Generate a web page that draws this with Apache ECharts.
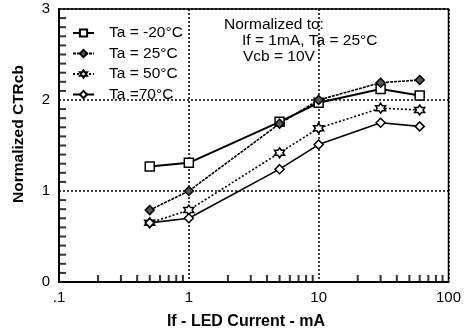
<!DOCTYPE html>
<html><head><meta charset="utf-8">
<script src="https://cdn.jsdelivr.net/npm/echarts@6/dist/echarts.min.js"></script>
<style>html,body{margin:0;padding:0;background:#fff}#c{width:464px;height:334px}</style>
</head><body><div id="c"></div>
<script>
const currents = [0.5, 1, 5, 10, 30, 60];
const seriesNames = ['Ta = -20\u00B0C', 'Ta = 25\u00B0C', 'Ta = 50\u00B0C', 'Ta =70\u00B0C'];
const ctrM20 = [1.27, 1.31, 1.76, 1.97, 2.12, 2.05];
const ctr25 = [0.79, 1.00, 1.74, 2.00, 2.19, 2.22];
const ctr50 = [0.65, 0.79, 1.42, 1.69, 1.91, 1.89];
const ctr70 = [0.65, 0.70, 1.24, 1.51, 1.75, 1.71];
const xMinorTicks = [0.2,0.3,0.4,0.5,0.6,0.7,0.8,0.9,2,3,4,5,6,7,8,9,20,30,40,50,60,70,80,90];
const yMinorTicks = [0.1,0.2,0.3,0.4,0.5,0.6,0.7,0.8,0.9,1.1,1.2,1.3,1.4,1.5,1.6,1.7,1.8,1.9,2.1,2.2,2.3,2.4,2.5,2.6,2.7,2.8,2.9];
const xTickLabels = {0.1: '.1', 1: '1', 10: '10', 100: '100'};
const noteLines = ['Normalized to:', 'If = 1mA, Ta = 25\u00B0C', 'Vcb = 10V'];
const xName = 'If - LED Current - mA';
const yName = 'Normalized CTRcb';

const font = 'Liberation Sans, Arial, Helvetica, sans-serif';
const star = 'path://M0,-10 L2.9,-5 L8.7,-5 L5.8,0 L8.7,5 L2.9,5 L0,10 L-2.9,5 L-8.7,5 L-5.8,0 L-8.7,-5 L-2.9,-5 Z';

function pts(vals){ return currents.map((x,i)=>[x, vals[i]]); }

const styles = [
  {data: ctrM20, symbol: 'rect', fill: '#fff', line: {type: 'solid', width: 2}},
  {data: ctr25, symbol: 'diamond', fill: '#555', line: {type: [3, 1], width: 1.6}},
  {data: ctr50, symbol: star, fill: '#fff', line: {type: [2, 2], width: 1.6}},
  {data: ctr70, symbol: 'diamond', fill: '#fff', line: {type: 'solid', width: 1.6}}
];

const series = styles.map((s, i) => ({
  name: seriesNames[i], type: 'line', data: pts(s.data),
  symbol: s.symbol, symbolSize: i === 2 ? 10 : 9, showAllSymbol: true,
  itemStyle: {color: s.fill, borderColor: '#000', borderWidth: 1.5},
  lineStyle: {color: '#000', width: s.line.width, type: s.line.type},
  z: 5, animation: false
}));

// log-axis minor tick marks drawn as thin rect symbols positioned by the axes
series.push({
  type: 'scatter', name: 'xminor', silent: true, animation: false, z: 10, clip: false,
  data: xMinorTicks.map(v => [v, 0]),
  symbol: 'rect', symbolSize: [2, 7], symbolOffset: [0, -3.5],
  itemStyle: {color: '#000', borderWidth: 0}
});
// y minor ticks: placed at the left edge of the x range
series.push({
  type: 'scatter', name: 'yminor', silent: true, animation: false, z: 10, clip: false,
  data: yMinorTicks.map(v => [0.1001, v]),
  symbol: 'rect', symbolSize: [7, 2], symbolOffset: [3.5, 0],
  itemStyle: {color: '#000', borderWidth: 0}
});

const chart = echarts.init(document.getElementById('c'), null, {renderer: 'canvas'});
chart.setOption({
  backgroundColor: '#fff',
  animation: false,
  grid: {left: 59, top: 9, right: 14, bottom: 52, show: true, borderColor: '#000', borderWidth: 1.5, backgroundColor: 'transparent'},
  legend: {
    data: seriesNames, orient: 'vertical', left: 72, top: 25, itemGap: 4.5,
    itemWidth: 21, itemHeight: 9, padding: 0,
    textStyle: {fontFamily: font, fontSize: 15.5, lineHeight: 15, color: '#000', padding: [0, 0, 0, 10]}
  },
  graphic: [
    {type: 'text', x: 224, y: 25, style: {text: noteLines[0], font: '15.5px ' + font, fill: '#000', verticalAlign: 'middle'}},
    {type: 'text', x: 242, y: 41, style: {text: noteLines[1], font: '15.5px ' + font, fill: '#000', verticalAlign: 'middle'}},
    {type: 'text', x: 243, y: 57, style: {text: noteLines[2], font: '15.5px ' + font, fill: '#000', verticalAlign: 'middle'}},
    {type: 'text', x: 246, y: 322, style: {text: xName, font: 'bold 16px ' + font, fill: '#000', align: 'center', verticalAlign: 'middle'}},
    {type: 'text', x: 19, y: 134, rotation: Math.PI / 2, style: {text: yName, font: 'bold 15.5px ' + font, fill: '#000', align: 'center', verticalAlign: 'middle'}}
  ],
  xAxis: {
    type: 'log', logBase: 10, min: 0.1, max: 100,
    axisLine: {lineStyle: {color: '#000', width: 2}},
    axisTick: {show: false},
    axisLabel: {fontFamily: font, fontSize: 15, color: '#000', margin: 8,
      formatter: v => xTickLabels[+v.toPrecision(3)] !== undefined ? xTickLabels[+v.toPrecision(3)] : ''},
    splitLine: {show: true, lineStyle: {color: '#000', type: [2, 2], width: 1.5}}
  },
  yAxis: {
    type: 'value', min: 0, max: 3, interval: 1,
    axisLine: {show: true, lineStyle: {color: '#000', width: 2}},
    axisTick: {show: false},
    axisLabel: {fontFamily: font, fontSize: 15, color: '#000', margin: 9},
    splitLine: {show: true, lineStyle: {color: '#000', type: [2, 2], width: 1.5}}
  },
  series: series
});
</script></body></html>
